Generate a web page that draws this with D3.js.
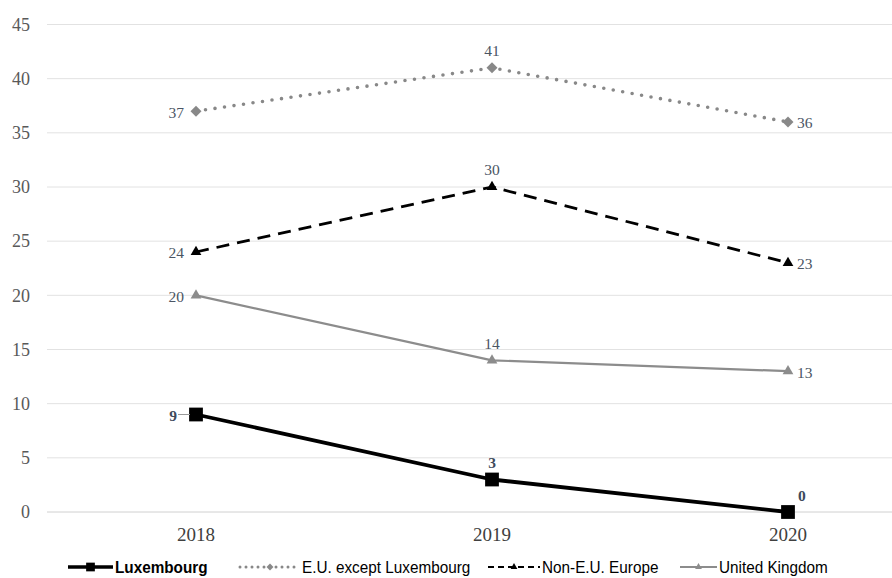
<!DOCTYPE html>
<html><head><meta charset="utf-8">
<script src="https://cdn.jsdelivr.net/npm/d3@7"></script>
<style>body{margin:0;background:#fff}svg{display:block}</style>
</head><body><svg id="c" width="892" height="578"></svg>
<script>
const years = ["2018","2019","2020"];
const luxembourg = [9,3,0];
const euExceptLux = [37,41,36];
const nonEuEurope = [24,30,23];
const unitedKingdom = [20,14,13];
const yTicks = [0,5,10,15,20,25,30,35,40,45];
const seriesNames = ["Luxembourg","E.U. except Luxembourg","Non-E.U. Europe","United Kingdom"];

const svg = d3.select("#c");
const x = d3.scaleBand().domain(years).range([48,936]);
const cx = d => x(d) + x.bandwidth()/2;
const y = d3.scaleLinear().domain([0,45]).range([512,24.5]);

// grid
svg.append("g").selectAll("line").data(yTicks).join("line")
  .attr("x1",47).attr("x2",892).attr("y1",d=>y(d)).attr("y2",d=>y(d))
  .attr("stroke",d=>d===0?"#d0d0d0":"#e2e2e2").attr("stroke-width",1);
// y labels
svg.append("g").selectAll("text").data(yTicks).join("text")
  .attr("x",30).attr("y",d=>y(d)).attr("dy","0.35em").attr("text-anchor","end")
  .attr("font-family","Liberation Serif, serif").attr("font-size",18).attr("fill","#595959")
  .text(d=>d);
// x labels
svg.append("g").selectAll("text").data(years).join("text")
  .attr("x",d=>cx(d)).attr("y",541).attr("text-anchor","middle")
  .attr("font-family","Liberation Serif, serif").attr("font-size",19).attr("fill","#404040")
  .text(d=>d);

const series = [
  {name:seriesNames[1], vals:euExceptLux, color:"#888888", width:3.6, dash:"0 9.6", cap:"round", marker:"diamond", msize:60, mcolor:"#888888",
   pos:["left","top","right"], lcolor:"#4a5563", bold:false},
  {name:seriesNames[2], vals:nonEuEurope, color:"#000000", width:2.8, dash:"13 8", cap:"butt", marker:"triangle", msize:50, mcolor:"#000000",
   pos:["left","top","right"], lcolor:"#4a5563", bold:false},
  {name:seriesNames[3], vals:unitedKingdom, color:"#8c8c8c", width:2.2, dash:null, cap:"butt", marker:"triangle", msize:50, mcolor:"#8c8c8c",
   pos:["left","top","right"], lcolor:"#4a5563", bold:false},
  {name:seriesNames[0], vals:luxembourg, color:"#000000", width:3.8, dash:null, cap:"butt", marker:"square", msize:190, mcolor:"#000000",
   pos:["left","top","topright"], lcolor:"#3e4a5c", bold:true}
];
const symType = {diamond:d3.symbolSquare, triangle:d3.symbolTriangle, square:d3.symbolSquare};
const rot = {diamond:45, triangle:0, square:0};
const line = d3.line().x((d,i)=>cx(years[i])).y(d=>y(d));

series.forEach(s=>{
  const g = svg.append("g");
  g.append("path").datum(s.vals).attr("d",line).attr("fill","none")
    .attr("stroke",s.color).attr("stroke-width",s.width)
    .attr("stroke-dasharray",s.dash).attr("stroke-linecap",s.cap).attr("stroke-linejoin","round");
  g.selectAll("path.m").data(s.vals).join("path").attr("class","m")
    .attr("transform",(d,i)=>`translate(${cx(years[i])},${y(d)}) rotate(${rot[s.marker]})`)
    .attr("d",d3.symbol().type(symType[s.marker]).size(s.msize)).attr("fill",s.mcolor);
  s.vals.forEach((v,i)=>{
    const px = cx(years[i]), py = y(v), p = s.pos[i];
    let tx=px, ty=py, anchor="middle";
    if(p==="left"){tx=px-12; anchor="end"; ty=py+1;}
    if(p==="right"){tx=px+9; anchor="start"; ty=py+1;}
    if(p==="top"){ty=py-17;}
    if(p==="topright"){tx=px+10; anchor="start"; ty=py-16;}
    if(s.bold && p==="left"){
      g.append("line").attr("x1",px-18).attr("x2",px-6).attr("y1",py).attr("y2",py)
        .attr("stroke","#999").attr("stroke-width",1);
      tx = px-19;
    }
    g.append("text").attr("x",tx).attr("y",ty).attr("dy","0.35em").attr("text-anchor",anchor)
      .attr("font-family","Liberation Serif, serif").attr("font-size",15.5)
      .attr("font-weight",s.bold?"bold":"normal").attr("fill",s.lcolor).text(v);
  });
});

// legend
const legendX = [68,240,488,680];
const legendOrder = [3,0,1,2];
const lg = svg.append("g");
legendOrder.forEach((si,k)=>{
  const s = series[si];
  const lx = legendX[k], ly = 567;
  const lw = (k===1)?60:(k===2?52:(k===0?45:37));
  lg.append("line").attr("x1",lx).attr("x2",lx+lw).attr("y1",ly).attr("y2",ly)
    .attr("stroke",s.color).attr("stroke-width",s.bold?3.4:(si===0?3:2))
    .attr("stroke-dasharray",si===0?"0 6":(si===1?"6 4":null)).attr("stroke-linecap",s.cap);
  lg.append("path").attr("transform",`translate(${lx+lw/2},${ly}) rotate(${rot[s.marker]})`)
    .attr("d",d3.symbol().type(symType[s.marker]).size(s.msize*0.4)).attr("fill",s.mcolor);
  lg.append("text").attr("transform",`translate(${lx+lw+2},${ly}) scale(0.9,1)`).attr("dy","0.35em")
    .attr("font-family","Liberation Sans, Arial, sans-serif")
    .attr("font-size",17).attr("font-weight",s.bold?"bold":"normal").attr("fill","#000")
    .text(s.name);
});
</script></body></html>
